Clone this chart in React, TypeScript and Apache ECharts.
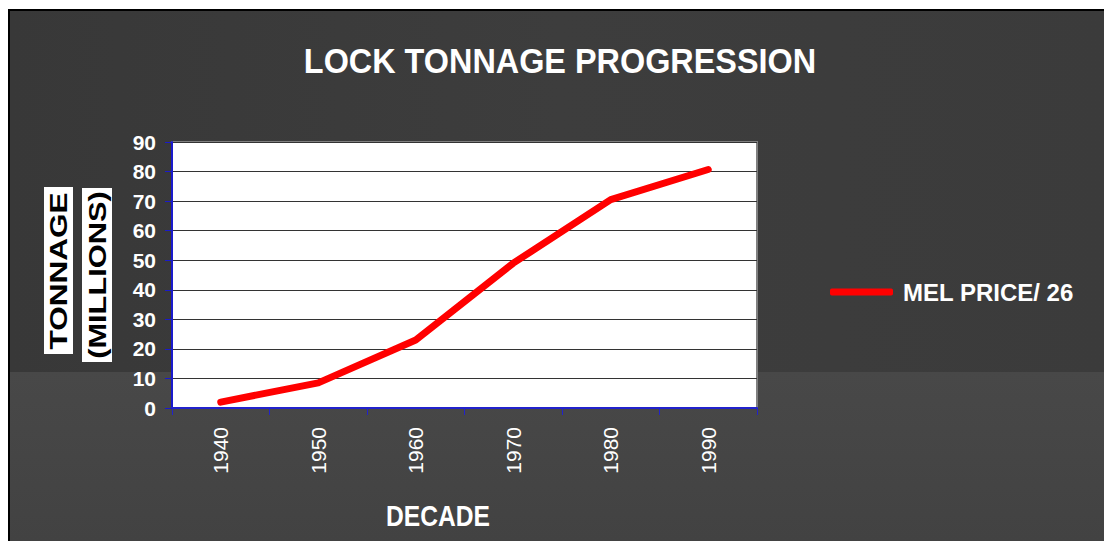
import React, { useEffect, useRef } from "react";
import * as echarts from "echarts";

const decades = ["1940", "1950", "1960", "1970", "1980", "1990"];
const tonnage = [2, 8.5, 23, 49, 70.5, 80.7];
const seriesName = "MEL PRICE/ 26";
const chartTitle = "LOCK TONNAGE PROGRESSION";
const xTitle = "DECADE";
const yTitle1 = "TONNAGE";
const yTitle2 = "(MILLIONS)";

const FONT = '"Liberation Sans", Arial, sans-serif';

export default function App() {
  const ref = useRef<HTMLDivElement>(null);
  useEffect(() => {
    if (!ref.current) return;
    const chart = echarts.init(ref.current, null, { renderer: "svg" });
    chart.setOption({
      animation: false,
      backgroundColor: "#ffffff",
      graphic: [
        {
          type: "rect",
          z: -10,
          shape: { x: 9, y: 10, width: 1100, height: 540 },
          style: {
            fill: new echarts.graphic.LinearGradient(0, 0, 1, 0, [
              { offset: 0, color: "#383838" },
              { offset: 0.5, color: "#3d3d3d" },
              { offset: 1, color: "#3b3b3b" },
            ]),
            stroke: "#000000",
            lineWidth: 2,
          },
        },
        {
          type: "rect",
          z: -9,
          shape: { x: 10, y: 372, width: 1100, height: 170 },
          style: {
            fill: new echarts.graphic.LinearGradient(0, 0, 0, 1, [
              { offset: 0, color: "#484848" },
              { offset: 1, color: "#424242" },
            ]),
          },
        },
        {
          type: "text",
          z: 100,
          x: 560,
          y: 60,
          scaleX: 0.9,
          style: {
            text: chartTitle,
            fill: "#ffffff",
            font: `bold 36px ${FONT}`,
            align: "center",
            verticalAlign: "middle",
          },
        },
        {
          type: "text",
          z: 100,
          x: 438,
          y: 516,
          scaleX: 0.82,
          style: {
            text: xTitle,
            fill: "#ffffff",
            font: `bold 30px ${FONT}`,
            align: "center",
            verticalAlign: "middle",
          },
        },
        {
          type: "rect",
          z: 90,
          shape: { x: 44, y: 187, width: 29, height: 167 },
          style: { fill: "#ffffff" },
        },
        {
          type: "rect",
          z: 90,
          shape: { x: 82, y: 188, width: 30, height: 174 },
          style: { fill: "#ffffff" },
        },
        {
          type: "text",
          z: 100,
          x: 59,
          y: 271,
          rotation: Math.PI / 2,
          scaleX: 1.37,
          style: {
            text: yTitle1,
            fill: "#000000",
            font: `bold 23px ${FONT}`,
            align: "center",
            verticalAlign: "middle",
          },
        },
        {
          type: "text",
          z: 100,
          x: 97.5,
          y: 275,
          rotation: Math.PI / 2,
          scaleX: 1.34,
          style: {
            text: yTitle2,
            fill: "#000000",
            font: `bold 23px ${FONT}`,
            align: "center",
            verticalAlign: "middle",
          },
        },
      ],
      grid: {
        left: 172,
        top: 142,
        width: 585,
        height: 266,
        show: true,
        backgroundColor: "#ffffff",
        borderColor: "#808080",
        borderWidth: 2,
      },
      legend: {
        left: 830,
        top: 280,
        padding: 0,
        data: [seriesName],
        icon: "roundRect",
        itemWidth: 63,
        itemHeight: 7,
        itemStyle: { color: "#ff0000" },
        textStyle: {
          color: "#ffffff",
          fontFamily: FONT,
          fontWeight: "bold",
          fontSize: 24,
          padding: [0, 0, 0, 5],
        },
      },
      xAxis: {
        type: "category",
        data: decades,
        boundaryGap: true,
        axisLine: { show: true, lineStyle: { color: "#2222cc", width: 2 } },
        axisTick: { show: true, length: 7, lineStyle: { color: "#2222cc", width: 1 } },
        axisLabel: {
          rotate: 90,
          color: "#ffffff",
          fontFamily: FONT,
          fontSize: 21,
          margin: 19,
        },
        splitLine: { show: false },
      },
      yAxis: {
        type: "value",
        min: 0,
        max: 90,
        interval: 10,
        axisLine: { show: true, lineStyle: { color: "#1a1acc", width: 2 } },
        axisTick: { show: true, length: 7, lineStyle: { color: "#1a1acc", width: 1 } },
        axisLabel: {
          color: "#ffffff",
          fontFamily: FONT,
          fontWeight: "bold",
          fontSize: 21,
          margin: 16,
        },
        splitLine: { show: true, lineStyle: { color: "#333333", width: 1 } },
      },
      series: [
        {
          name: seriesName,
          type: "line",
          data: tonnage,
          symbol: "none",
          lineStyle: { color: "#ff0000", width: 7, cap: "round", join: "round" },
          itemStyle: { color: "#ff0000" },
        },
      ],
    });
    return () => chart.dispose();
  }, []);
  return (
    <div
      ref={ref}
      style={{ position: "fixed", left: 0, top: 0, width: 1104, height: 541 }}
    />
  );
}
